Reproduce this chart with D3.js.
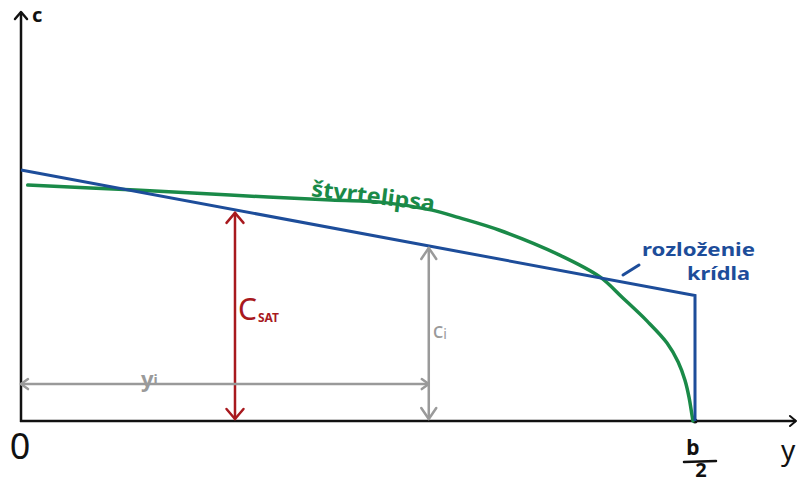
<!DOCTYPE html>
<html>
<head>
<meta charset="utf-8">
<script src="https://cdn.jsdelivr.net/npm/d3@7"></script>
<style>
  body { margin: 0; background: #fff; }
  svg { display: block; }
  text { font-family: "Noto Sans", sans-serif; }
</style>
</head>
<body>
<svg id="chart" width="797" height="484"></svg>
<script>
// values: span as fraction of b/2, chord c relative to root chord
const wingSpan = [0, 1, 1];
const wingChord = [1.0, 0.5, 0];          // trapezoidal wing, closed down to the axis at the tip
const ellipseSpan = [0.01, 0.17, 0.31, 0.46, 0.54, 0.61, 0.65, 0.71, 0.80, 0.859, 0.893, 0.929, 0.9585, 0.975, 0.985, 0.991, 0.9955, 0.997];
const ellipseChord = [0.94, 0.92, 0.90, 0.88, 0.87, 0.84, 0.81, 0.76, 0.66, 0.574, 0.490, 0.398, 0.311, 0.235, 0.163, 0.096, 0.024, 0];
const satSpan = 0.3175;   // where C_SAT is measured
const iSpan = 0.605;      // station y_i
const yiLevel = 0.147;    // height of the y_i dimension line
const labels = { yAxis: "c", xAxis: "y", origin: "0", tipNum: "b", tipDen: "2",
  ellipse: "štvrtelipsa", wing: ["rozloženie", "krídla"], sat: ["C", "SAT"], ci: "ci", yi: "yi" };

const colors = { axis: "#111", wing: "#1d4d9a", ellipse: "#1a8a48", sat: "#a8191e", dim: "#9a9a9a" };

const svg = d3.select("#chart");
const W = 797, H = 484;
const x = d3.scaleLinear().domain([0, 1]).range([21, 695]);
const y = d3.scaleLinear().domain([0, 1]).range([421, 170]);

// open "V" arrow head with its tip at (tx,ty), pointing along ang (radians)
function chevron(g, tx, ty, ang, len, half, color, sw) {
  const bx = tx - Math.cos(ang) * len, by = ty - Math.sin(ang) * len;
  const nx = -Math.sin(ang) * half, ny = Math.cos(ang) * half;
  g.append("path")
    .attr("d", d3.line()([[bx + nx, by + ny], [tx, ty], [bx - nx, by - ny]]))
    .attr("fill", "none").attr("stroke", color).attr("stroke-width", sw)
    .attr("stroke-linecap", "round").attr("stroke-linejoin", "round");
}

function dimLine(x1, y1, x2, y2, color, sw, len, half) {
  const g = svg.append("g");
  g.append("line").attr("x1", x1).attr("y1", y1).attr("x2", x2).attr("y2", y2)
    .attr("stroke", color).attr("stroke-width", sw).attr("stroke-linecap", "round");
  const a = Math.atan2(y2 - y1, x2 - x1);
  chevron(g, x2, y2, a, len, half, color, sw);
  chevron(g, x1, y1, a + Math.PI, len, half, color, sw);
}

// axes
const ax = svg.append("g");
ax.append("line").attr("x1", x(0)).attr("y1", y(0) + 1).attr("x2", x(0)).attr("y2", 12)
  .attr("stroke", colors.axis).attr("stroke-width", 2.5);
chevron(ax, x(0), 12, -Math.PI / 2, 7, 6, colors.axis, 2.5);
ax.append("line").attr("x1", x(0) - 1).attr("y1", y(0)).attr("x2", W - 1).attr("y2", y(0))
  .attr("stroke", colors.axis).attr("stroke-width", 2.5);
chevron(ax, W - 1, y(0), 0, 6, 5, colors.axis, 2);
ax.append("circle").attr("cx", x(1)).attr("cy", y(0)).attr("r", 2.5).attr("fill", colors.axis);

ax.append("text").attr("x", x(0) + 11).attr("y", 22).attr("font-size", 20).attr("font-weight", 700)
  .attr("fill", colors.axis).text(labels.yAxis);
ax.append("text").attr("x", x(0) - 1).attr("y", 459).attr("text-anchor", "middle")
  .attr("font-size", 36).attr("fill", colors.axis).text(labels.origin);
// b/2 fraction under the tip
ax.append("text").attr("x", x(1) - 2).attr("y", 455).attr("text-anchor", "middle")
  .attr("font-size", 21).attr("font-weight", 700).attr("fill", colors.axis).text(labels.tipNum);
ax.append("line").attr("x1", x(1) - 11).attr("x2", x(1) + 21).attr("y1", 462).attr("y2", 461)
  .attr("stroke", colors.axis).attr("stroke-width", 2.5).attr("stroke-linecap", "round");
ax.append("text").attr("x", x(1) + 6).attr("y", 477).attr("text-anchor", "middle")
  .attr("font-size", 20).attr("font-weight", 700).attr("fill", colors.axis).text(labels.tipDen);
ax.append("text").attr("x", W - 16).attr("y", 460)
  .attr("font-size", 28).attr("fill", colors.axis).text(labels.xAxis);

// quarter ellipse
svg.append("path")
  .attr("d", d3.line().curve(d3.curveCatmullRom)(ellipseSpan.map((s, i) => [x(s), y(ellipseChord[i])])))
  .attr("fill", "none").attr("stroke", colors.ellipse).attr("stroke-width", 3.5)
  .attr("stroke-linecap", "round");

// wing planform chord distribution
svg.append("path")
  .attr("d", d3.line()(wingSpan.map((s, i) => [x(s), y(wingChord[i])])))
  .attr("fill", "none").attr("stroke", colors.wing).attr("stroke-width", 3)
  .attr("stroke-linejoin", "miter");

const chordAt = s => wingChord[0] + (wingChord[1] - wingChord[0]) * s;

// C_SAT arrow
dimLine(x(satSpan), y(0) - 2, x(satSpan), y(chordAt(satSpan)) + 3, colors.sat, 2.5, 10, 8.5);
const satT = svg.append("text").attr("x", x(satSpan) + 3).attr("y", 320).attr("fill", colors.sat);
satT.append("tspan").attr("font-size", 30).text(labels.sat[0]);
satT.append("tspan").attr("font-size", 12).attr("font-weight", 700).attr("dy", 2).attr("dx", 1).text(labels.sat[1]);

// c_i arrow
dimLine(x(iSpan), y(0) - 2, x(iSpan), y(chordAt(iSpan)) + 2, colors.dim, 2.5, 11, 7.5);
svg.append("text").attr("x", x(iSpan) + 4).attr("y", 338).attr("font-size", 22)
  .attr("fill", colors.dim).text(labels.ci[0])
  .append("tspan").attr("font-size", 14).attr("dy", 1).text(labels.ci.slice(1));

// y_i arrow
dimLine(x(0), y(yiLevel), x(iSpan), y(yiLevel), colors.dim, 2.5, 7, 5);
svg.append("text").attr("x", x(0) + 120).attr("y", y(yiLevel) + 3).attr("font-size", 22)
  .attr("font-weight", 700).attr("fill", colors.dim).text(labels.yi[0])
  .append("tspan").attr("font-size", 14).attr("dy", -2).text(labels.yi.slice(1));

// annotations
svg.append("text").attr("transform", `translate(${x(0.43)},196) rotate(7)`)
  .attr("font-size", 22).attr("font-weight", 700).attr("fill", colors.ellipse)
  .attr("textLength", 124).attr("lengthAdjust", "spacingAndGlyphs").text(labels.ellipse);

svg.append("line").attr("x1", 623).attr("y1", 275).attr("x2", 639).attr("y2", 265)
  .attr("stroke", colors.wing).attr("stroke-width", 3).attr("stroke-linecap", "round");
svg.append("text").attr("x", 642).attr("y", 256).attr("font-size", 18).attr("font-weight", 700)
  .attr("fill", colors.wing).attr("textLength", 113).attr("lengthAdjust", "spacingAndGlyphs")
  .text(labels.wing[0]);
svg.append("text").attr("x", 687).attr("y", 280).attr("font-size", 18).attr("font-weight", 700)
  .attr("fill", colors.wing).attr("textLength", 63).attr("lengthAdjust", "spacingAndGlyphs")
  .text(labels.wing[1]);
</script>
</body>
</html>
